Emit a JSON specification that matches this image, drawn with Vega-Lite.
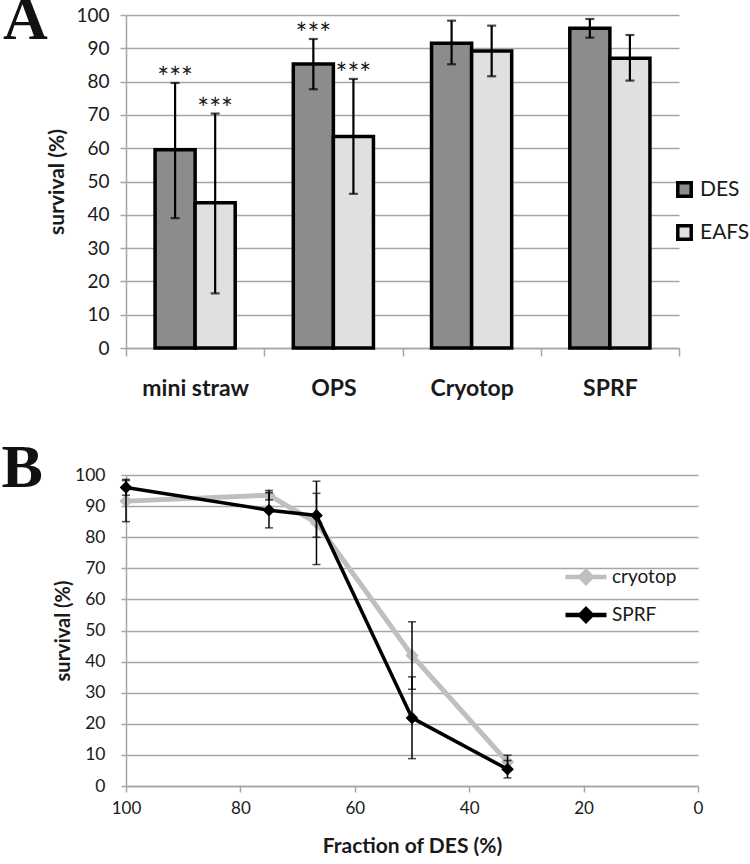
{
  "$schema": "https://vega.github.io/schema/vega-lite/v6.json",
  "background": "white",
  "padding": {"left": 1, "top": -12, "right": 0, "bottom": 0},
  "spacing": 37,
  "resolve": {"scale": {"color": "independent"}, "legend": {"color": "independent"}},
  "config": {
    "font": "Lato",
    "view": {"stroke": null},
    "axis": {"labelColor": "#1a1a1a", "titleColor": "#1a1a1a", "domainColor": "#a6a6a6", "tickColor": "#a6a6a6", "gridColor": "#a6a6a6", "domainWidth": 1.5, "tickWidth": 1.5, "gridWidth": 1.5},
    "legend": {"labelColor": "#1a1a1a", "padding": 0}
  },
  "datasets": {
    "a": [
      {"cat": "mini straw", "series": "DES", "value": 59.5, "lo": 39.0, "hi": 79.6, "stars": "***"},
      {"cat": "mini straw", "series": "EAFS", "value": 43.6, "lo": 16.4, "hi": 70.4, "stars": "***"},
      {"cat": "OPS", "series": "DES", "value": 85.3, "lo": 77.7, "hi": 92.8, "stars": "***"},
      {"cat": "OPS", "series": "EAFS", "value": 63.5, "lo": 46.3, "hi": 80.8, "stars": "***"},
      {"cat": "Cryotop", "series": "DES", "value": 91.5, "lo": 85.2, "hi": 98.3, "stars": ""},
      {"cat": "Cryotop", "series": "EAFS", "value": 89.2, "lo": 81.6, "hi": 96.8, "stars": ""},
      {"cat": "SPRF", "series": "DES", "value": 96.0, "lo": 93.2, "hi": 98.8, "stars": ""},
      {"cat": "SPRF", "series": "EAFS", "value": 87.0, "lo": 80.3, "hi": 94.0, "stars": ""}
    ],
    "b": [
      {"series": "cryotop", "frac": 100, "value": 91.6, "lo": 85.0, "hi": 98.2},
      {"series": "cryotop", "frac": 75, "value": 93.5, "lo": 92.0, "hi": 95.0},
      {"series": "cryotop", "frac": 66.7, "value": 84.6, "lo": 71.2, "hi": 98.0},
      {"series": "cryotop", "frac": 50, "value": 42.0, "lo": 31.1, "hi": 52.8},
      {"series": "cryotop", "frac": 33.3, "value": 7.7, "lo": 5.5, "hi": 9.9},
      {"series": "SPRF", "frac": 100, "value": 96.0, "lo": 93.5, "hi": 98.6},
      {"series": "SPRF", "frac": 75, "value": 88.7, "lo": 83.0, "hi": 94.3},
      {"series": "SPRF", "frac": 66.7, "value": 87.0, "lo": 80.0, "hi": 94.1},
      {"series": "SPRF", "frac": 50, "value": 21.9, "lo": 8.8, "hi": 35.1},
      {"series": "SPRF", "frac": 33.3, "value": 5.4, "lo": 2.6, "hi": 8.2}
    ]
  },
  "vconcat": [
    {
      "title": {"text": "A", "anchor": "start", "frame": "bounds", "font": "Liberation Serif", "fontSize": 62, "fontWeight": "bold", "color": "#111111", "offset": 0, "dx": -44, "dy": 50},
      "width": 553,
      "height": 333,
      "data": {"name": "a"},
      "encoding": {
        "x": {
          "field": "cat", "type": "nominal", "sort": ["mini straw", "OPS", "Cryotop", "SPRF"],
          "scale": {"paddingInner": 0, "paddingOuter": 0},
          "axis": {"title": null, "tickBand": "extent", "labelAngle": 0, "labelFontSize": 23, "labelFontWeight": "bold", "tickSize": 8, "labelPadding": 21, "grid": false}
        },
        "xOffset": {"field": "series", "type": "nominal", "scale": {"paddingInner": 0, "paddingOuter": 0.725}},
        "y": {
          "field": "value", "type": "quantitative", "scale": {"domain": [0, 100]},
          "axis": {"values": [0, 10, 20, 30, 40, 50, 60, 70, 80, 90, 100], "title": "survival (%)", "grid": true, "tickSize": 6, "labelFontSize": 19, "labelPadding": 11, "titleFontSize": 21, "titleFontWeight": "bold", "titlePadding": 8}
        }
      },
      "layer": [
        {
          "mark": {"type": "bar", "stroke": "black", "strokeWidth": 3.5},
          "encoding": {
            "color": {
              "field": "series", "type": "nominal",
              "scale": {"domain": ["DES", "EAFS"], "range": ["#8c8c8c", "#e0e0e0"]},
              "legend": {"title": null, "orient": "none", "legendX": 548, "legendY": 164, "symbolType": "square", "symbolSize": 180, "symbolStrokeColor": "black", "symbolStrokeWidth": 3.5, "labelFontSize": 21, "rowPadding": 14, "labelOffset": 5,
                "encode": {"symbols": {"update": {"stroke": {"value": "black"}, "strokeWidth": {"value": 3.5}, "fill": {"scale": "color", "field": "value"}, "opacity": {"value": 1}}}}}
            }
          }
        },
        {
          "mark": {"type": "rule", "color": "black", "strokeWidth": 2.2},
          "encoding": {"y": {"field": "lo", "type": "quantitative"}, "y2": {"field": "hi"}}
        },
        {
          "mark": {"type": "tick", "orient": "horizontal", "color": "black", "thickness": 2.2, "size": 9},
          "encoding": {"y": {"field": "lo", "type": "quantitative"}}
        },
        {
          "mark": {"type": "tick", "orient": "horizontal", "color": "black", "thickness": 2.2, "size": 9},
          "encoding": {"y": {"field": "hi", "type": "quantitative"}}
        },
        {
          "mark": {"type": "text", "fontSize": 28, "baseline": "alphabetic", "dy": 5, "color": "#1a1a1a"},
          "encoding": {"y": {"field": "hi", "type": "quantitative"}, "text": {"field": "stars"}}
        }
      ]
    },
    {
      "title": {"text": "B", "anchor": "start", "frame": "bounds", "font": "Liberation Serif", "fontSize": 62, "fontWeight": "bold", "color": "#111111", "offset": 0, "dx": -52, "dy": 34},
      "width": 572,
      "height": 311,
      "data": {"name": "b"},
      "encoding": {
        "x": {
          "field": "frac", "type": "quantitative", "scale": {"domain": [0, 100], "reverse": true},
          "axis": {"values": [0, 20, 40, 60, 80, 100], "title": "Fraction of DES (%)", "titleFontSize": 21, "titleFontWeight": "bold", "titlePadding": 19, "labelFontSize": 17, "labelFlush": false, "tickSize": 6, "labelPadding": 8, "grid": false}
        },
        "y": {
          "field": "value", "type": "quantitative", "scale": {"domain": [0, 100]},
          "axis": {"values": [0, 10, 20, 30, 40, 50, 60, 70, 80, 90, 100], "title": "survival (%)", "grid": true, "tickSize": 5, "labelFontSize": 17.5, "labelPadding": 16, "titleFontSize": 20, "titleFontWeight": "bold", "titlePadding": 1}
        },
        "color": {
          "field": "series", "type": "nominal",
          "scale": {"domain": ["cryotop", "SPRF"], "range": ["#bfbfbf", "#000000"]},
          "legend": {
            "title": null, "orient": "none", "legendX": 437, "legendY": 79,
            "symbolType": "M-1,0H1M-0.28,0L0,-0.28L0.28,0L0,0.28Z", "symbolSize": 1681, "symbolStrokeWidth": 4.5,
            "labelFontSize": 19, "rowPadding": -1, "labelOffset": 3,
            "encode": {"symbols": {"update": {"fill": {"scale": "color", "field": "value"}, "stroke": {"scale": "color", "field": "value"}, "opacity": {"value": 1}}}}
          }
        }
      },
      "layer": [
        {
          "transform": [{"filter": "datum.series === 'cryotop'"}],
          "mark": {"type": "line", "strokeWidth": 5}
        },
        {
          "transform": [{"filter": "datum.series === 'cryotop'"}],
          "mark": {"type": "point", "shape": "diamond", "filled": true, "size": 180, "opacity": 1}
        },
        {
          "transform": [{"filter": "datum.series === 'SPRF'"}],
          "mark": {"type": "line", "strokeWidth": 3.5}
        },
        {
          "transform": [{"filter": "datum.series === 'SPRF'"}],
          "mark": {"type": "point", "shape": "diamond", "filled": true, "size": 160, "opacity": 1}
        },
        {
          "mark": {"type": "rule", "color": "black", "strokeWidth": 1.5},
          "encoding": {"color": {"value": "black"}, "y": {"field": "lo", "type": "quantitative"}, "y2": {"field": "hi"}}
        },
        {
          "mark": {"type": "tick", "orient": "horizontal", "thickness": 1.5, "size": 8},
          "encoding": {"color": {"value": "black"}, "y": {"field": "lo", "type": "quantitative"}}
        },
        {
          "mark": {"type": "tick", "orient": "horizontal", "thickness": 1.5, "size": 8},
          "encoding": {"color": {"value": "black"}, "y": {"field": "hi", "type": "quantitative"}}
        }
      ]
    }
  ]
}
